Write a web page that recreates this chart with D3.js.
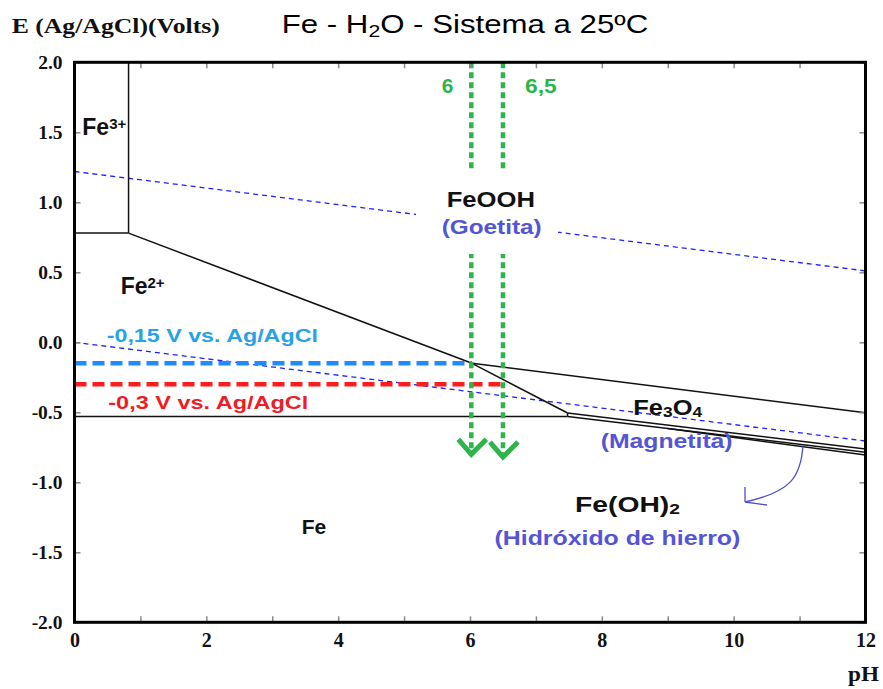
<!DOCTYPE html>
<html>
<head>
<meta charset="utf-8">
<script src="https://cdn.jsdelivr.net/npm/d3@7"></script>
<style>
  html, body { margin: 0; padding: 0; background: #fff; }
  svg { display: block; }
</style>
</head>
<body>
<svg id="chart" width="883" height="689"></svg>
<script>
// Pourbaix (E–pH) diagram for the Fe–H2O system at 25 °C, potentials vs. Ag/AgCl

// Axis ticks
const phTicks = [0, 1, 2, 3, 4, 5, 6, 7, 8, 9, 10, 11, 12];
const phLabels = [0, 2, 4, 6, 8, 10, 12];
const eTicks = [-2.0, -1.5, -1.0, -0.5, 0.0, 0.5, 1.0, 1.5, 2.0];

// Stability boundaries, [pH, E] pairs
const fe3Fe2Horizontal = [[0, 0.78], [0.82, 0.78]];
const fe3FeoohVertical = [[0.82, 2.0], [0.82, 0.78]];
const fe2Feooh = [[0.82, 0.78], [6.03, -0.15]];
const fe2Fe3o4 = [[6.03, -0.15], [7.48, -0.505]];
const feoohFe3o4 = [[6.03, -0.15], [12, -0.503]];
const feFe2 = [[0, -0.53], [7.48, -0.53]];
const tripleJoin = [[7.48, -0.505], [7.48, -0.53]];
const fe3o4FeOH2 = [[7.48, -0.505], [12, -0.762]];
const feOH2Upper = [[7.48, -0.53], [12, -0.785]];
const feOH2Lower = [[9.0, -0.616], [12, -0.805]];

// Water stability limits
const oxygenLine = [[0, 1.22], [12, 0.51]];
const hydrogenLine = [[0, 0.0], [12, -0.705]];

// Reference potentials and pH markers
const refPotentials = [-0.15, -0.3];
const refEndPh = [6.03, 6.5];
const markerPh = [6.02, 6.5];
const markerText = ["6", "6,5"];
const markerTipE = [-0.80, -0.82];

const svg = d3.select("#chart");
const x = d3.scaleLinear().domain([0, 12]).range([74.5, 865.5]);
const y = d3.scaleLinear().domain([-2, 2]).range([622.3, 62.3]);

const SANS = "'Liberation Sans', Arial, sans-serif";
const SERIF = "'Liberation Serif', 'Times New Roman', serif";

const line = d3.line().x(d => x(d[0])).y(d => y(d[1]));

// Stretch a text element horizontally so that it spans [x0, x0 + w]
function fit(sel, x0, w) {
  const bb = sel.node().getBBox();
  const k = w / bb.width;
  sel.attr("transform", `translate(${x0},0) scale(${k},1) translate(${-bb.x},0)`);
}

// ---- water lines (thin blue dashes)
[oxygenLine, hydrogenLine].forEach(d => {
  svg.append("path").attr("d", line(d))
    .attr("fill", "none").attr("stroke", "#1f1fff")
    .attr("stroke-width", 1.3).attr("stroke-dasharray", "5,4");
});

// ---- boundaries
[fe3Fe2Horizontal, fe3FeoohVertical, fe2Feooh, fe2Fe3o4, feoohFe3o4,
 feFe2, tripleJoin, fe3o4FeOH2, feOH2Upper, feOH2Lower].forEach(d => {
  svg.append("path").attr("d", line(d))
    .attr("fill", "none").attr("stroke", "#111")
    .attr("stroke-width", 1.5);
});

// ---- reference potential lines
const refColors = ["#1e8cff", "#ff1c1c"];
refPotentials.forEach((e, i) => {
  svg.append("path").attr("d", line([[0, e], [refEndPh[i], e]]))
    .attr("fill", "none").attr("stroke", refColors[i])
    .attr("stroke-width", 4.5).attr("stroke-dasharray", "12,6");
});

// ---- green pH markers with arrowheads
const green = "#2fb34b";
markerPh.forEach((p, i) => {
  svg.append("path").attr("d", line([[p, 2.0], [p, markerTipE[i]]]))
    .attr("fill", "none").attr("stroke", green)
    .attr("stroke-width", 4.5).attr("stroke-dasharray", "6,4");
  const tx = x(p), ty = y(markerTipE[i]);
  svg.append("path")
    .attr("d", `M${tx - 13},${ty - 15} L${tx},${ty} L${tx + 15},${ty - 15}`)
    .attr("fill", "none").attr("stroke", green)
    .attr("stroke-width", 5).attr("stroke-linejoin", "miter");
  svg.append("text").text(markerText[i])
    .attr("y", 93.3).attr("font-family", SANS).attr("font-weight", "bold")
    .attr("font-size", 20).attr("fill", green)
    .call(s => fit(s, i === 0 ? 441.7 : 525, i === 0 ? 11.6 : 31.7));
});

// ---- white background behind the goethite label
svg.append("rect").attr("x", 416).attr("y", 172).attr("width", 142).attr("height", 82)
  .attr("fill", "#fff");

// ---- frame and ticks
const tickColor = "#8a8a8a";
function styleAxis(g) {
  g.select(".domain").remove();
  g.selectAll(".tick line").attr("stroke", tickColor).attr("stroke-width", 1.5);
}
svg.append("g").attr("transform", `translate(0,${y(-2)})`)
  .call(d3.axisBottom(x).tickValues(phTicks).tickSizeInner(-6).tickSizeOuter(0)
    .tickPadding(11).tickFormat(d => phLabels.includes(d) ? String(d) : ""))
  .call(styleAxis)
  .call(g => g.selectAll("text").attr("font-family", SERIF).attr("font-weight", "bold")
    .attr("font-size", 20).attr("fill", "#111"));
svg.append("g").attr("transform", `translate(0,${y(2)})`)
  .call(d3.axisTop(x).tickValues(phTicks).tickSizeInner(-6).tickSizeOuter(0).tickFormat(""))
  .call(styleAxis);
svg.append("g").attr("transform", `translate(${x(0)},0)`)
  .call(d3.axisLeft(y).tickValues(eTicks).tickSizeInner(-6).tickSizeOuter(0)
    .tickPadding(12).tickFormat(d => d.toFixed(1)))
  .call(styleAxis)
  .call(g => g.selectAll("text").attr("font-family", SERIF).attr("font-weight", "bold")
    .attr("font-size", 19.5).attr("fill", "#111"));
svg.append("g").attr("transform", `translate(${x(12)},0)`)
  .call(d3.axisRight(y).tickValues(eTicks).tickSizeInner(-6).tickSizeOuter(0).tickFormat(""))
  .call(styleAxis);

svg.append("rect")
  .attr("x", x(0)).attr("y", y(2))
  .attr("width", x(12) - x(0)).attr("height", y(-2) - y(2))
  .attr("fill", "none").attr("stroke", "#000").attr("stroke-width", 3);

// ---- titles
svg.append("text").attr("y", 33.3)
  .attr("font-family", SERIF).attr("font-weight", "bold").attr("font-size", 22).attr("fill", "#111")
  .text("E (Ag/AgCl)(Volts)")
  .call(s => fit(s, 11.7, 208.3));

const title = svg.append("text").attr("y", 33.3)
  .attr("font-family", SANS).attr("font-size", 25).attr("fill", "#000");
title.append("tspan").text("Fe - H");
title.append("tspan").text("2").attr("font-size", 17).attr("dy", 4);
title.append("tspan").text("O - Sistema a 25ºC").attr("dy", -4);
fit(title, 281.7, 366.6);

svg.append("text").attr("y", 681)
  .attr("font-family", SERIF).attr("font-weight", "bold").attr("font-size", 21).attr("fill", "#111")
  .text("pH")
  .call(s => fit(s, 848, 31));

// ---- reference labels
svg.append("text").attr("y", 341.7)
  .attr("font-family", SANS).attr("font-weight", "bold").attr("font-size", 18.5).attr("fill", "#27a2e6")
  .text("-0,15 V vs. Ag/AgCl")
  .call(s => fit(s, 106.7, 211.3));
svg.append("text").attr("y", 409)
  .attr("font-family", SANS).attr("font-weight", "bold").attr("font-size", 18.5).attr("fill", "#ee1c25")
  .text("-0,3 V vs. Ag/AgCl")
  .call(s => fit(s, 108.3, 200));

// ---- species labels
function species(parts, xs, yb, size, color, w) {
  const t = svg.append("text").attr("y", yb)
    .attr("font-family", SANS).attr("font-weight", "bold").attr("font-size", size).attr("fill", color);
  parts.forEach(p => {
    const ts = t.append("tspan").text(p.t);
    if (p.s) ts.attr("font-size", p.s);
    if (p.dy) ts.attr("dy", p.dy);
  });
  if (w) fit(t, xs, w); else t.attr("x", xs);
  return t;
}
const black = "#111";
const violet = "#5454d6";
species([{t: "Fe"}, {t: "3+", s: 15, dy: -6}], 82.3, 135, 23, black);
species([{t: "Fe"}, {t: "2+", s: 15, dy: -6}], 120.7, 294.3, 23, black);
species([{t: "Fe"}], 301.7, 534.3, 21, black);
species([{t: "FeOOH"}], 446.7, 206.7, 22, black, 88.3);
species([{t: "(Goetita)"}], 441.7, 234.5, 21, violet, 100);
species([{t: "Fe"}, {t: "3", s: 15, dy: 2}, {t: "O", dy: -2}, {t: "4", s: 15, dy: 2}], 633.3, 415, 22, black, 69.7);
species([{t: "(Magnetita)"}], 600.7, 448, 21, violet, 132);
species([{t: "Fe(OH)"}, {t: "2", s: 15, dy: 2}], 575, 511.7, 22, black, 105);
species([{t: "(Hidróxido de hierro)"}], 494.5, 545, 21, violet, 246);

// ---- pointer from the Fe(OH)2 band to its label
svg.append("path")
  .attr("d", "M803,445 C801,478 790,492 745,502 M745,502 L745,487 M745,502 L767,505")
  .attr("fill", "none").attr("stroke", "#4d4dd4").attr("stroke-width", 1.3);
</script>
</body>
</html>
